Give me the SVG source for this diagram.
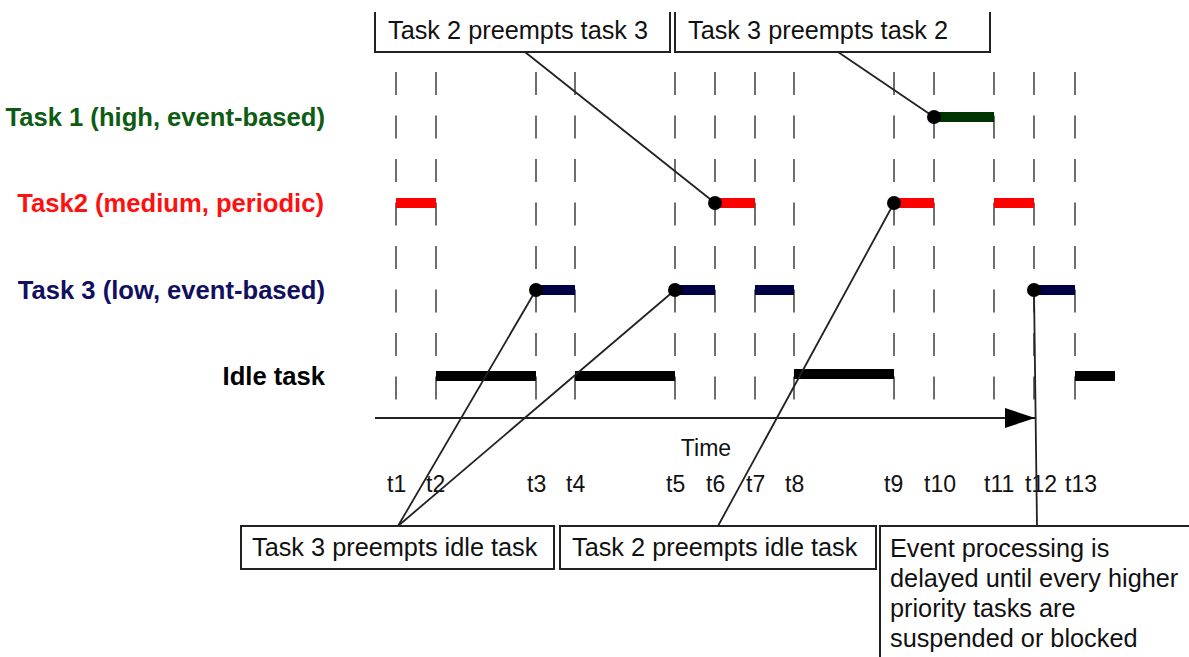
<svg xmlns="http://www.w3.org/2000/svg" width="1189" height="657" viewBox="0 0 1189 657">
<style>
  .grid line { stroke: #6e6e6e; stroke-width: 2; stroke-dasharray: 23 20.5; }
  .lbl { font-family: "Liberation Sans", Arial, sans-serif; font-size: 25.3px; fill: #111; }
  .tl { font-family: "Liberation Sans", Arial, sans-serif; font-size: 23px; fill: #111; }
  .task { font-family: "Liberation Sans", Arial, sans-serif; font-size: 25.6px; font-weight: bold; text-anchor: end; }
  .box { fill: #fff; stroke: #222; stroke-width: 2; }
  .conn { stroke: #222; stroke-width: 1.8; fill: none; }
  .b1 { stroke: #003300; stroke-width: 10; }
  .b2 { stroke: #ff0000; stroke-width: 10; }
  .b3 { stroke: #000044; stroke-width: 10; }
  .bi { stroke: #000; stroke-width: 10; }
  .dot { fill: #000; }
</style>
<defs>
  <marker id="arr" markerWidth="30" markerHeight="20" refX="30" refY="10" orient="auto" markerUnits="userSpaceOnUse">
    <path d="M0,0 L30,10 L0,20 Z" fill="#000"/>
  </marker>
</defs>
<rect width="1189" height="657" fill="#fff"/>

<g id="grid" class="grid">
  <line x1="396" y1="72" x2="396" y2="400"/>
  <line x1="436" y1="72" x2="436" y2="400"/>
  <line x1="536" y1="72" x2="536" y2="400"/>
  <line x1="575" y1="72" x2="575" y2="400"/>
  <line x1="675" y1="72" x2="675" y2="400"/>
  <line x1="715" y1="72" x2="715" y2="400"/>
  <line x1="755" y1="72" x2="755" y2="400"/>
  <line x1="794" y1="72" x2="794" y2="400"/>
  <line x1="894" y1="72" x2="894" y2="400"/>
  <line x1="934" y1="72" x2="934" y2="400"/>
  <line x1="994" y1="72" x2="994" y2="400"/>
  <line x1="1034" y1="72" x2="1034" y2="400"/>
  <line x1="1075" y1="72" x2="1075" y2="400"/>
</g>

<g id="task-labels">
  <text class="task" x="325" y="126" fill="#0d5c12">Task 1 (high, event-based)</text>
  <text class="task" x="324" y="212" fill="#ff1010">Task2 (medium, periodic)</text>
  <text class="task" x="325" y="299" fill="#10105e">Task 3 (low, event-based)</text>
  <text class="task" x="325" y="385" fill="#000">Idle task</text>
</g>

<g id="task1-bars">
  <line class="b1" x1="934" y1="117" x2="994" y2="117"/>
</g>
<g id="task2-bars">
  <line class="b2" x1="396" y1="203" x2="436" y2="203"/>
  <line class="b2" x1="715" y1="203" x2="755" y2="203"/>
  <line class="b2" x1="894" y1="203" x2="934" y2="203"/>
  <line class="b2" x1="994" y1="203" x2="1034" y2="203"/>
</g>
<g id="task3-bars">
  <line class="b3" x1="536" y1="290" x2="575" y2="290"/>
  <line class="b3" x1="675" y1="290" x2="715" y2="290"/>
  <line class="b3" x1="755" y1="290" x2="794" y2="290"/>
  <line class="b3" x1="1034" y1="290" x2="1075" y2="290"/>
</g>
<g id="idle-bars">
  <line class="bi" x1="436" y1="376" x2="536" y2="376"/>
  <line class="bi" x1="575" y1="376" x2="675" y2="376"/>
  <line class="bi" x1="794" y1="374" x2="894" y2="374"/>
  <line class="bi" x1="1075" y1="376" x2="1115" y2="376"/>
</g>

<g id="time-axis">
  <line x1="375" y1="418" x2="1035" y2="418" stroke="#222" stroke-width="2" marker-end="url(#arr)"/>
  <text class="tl" x="706" y="456" text-anchor="middle" font-size="24">Time</text>
</g>

<g id="time-labels" class="tl">
  <text x="387" y="492">t1</text>
  <text x="426" y="492">t2</text>
  <text x="527" y="492">t3</text>
  <text x="566" y="492">t4</text>
  <text x="666" y="492">t5</text>
  <text x="706" y="492">t6</text>
  <text x="746" y="492">t7</text>
  <text x="785" y="492">t8</text>
  <text x="884" y="492">t9</text>
  <text x="924" y="492">t10</text>
  <text x="984" y="492">t11</text>
  <text x="1025" y="492">t12</text>
  <text x="1065" y="492">t13</text>
</g>

<g id="connectors">
  <line class="conn" x1="525" y1="52" x2="715" y2="203"/>
  <line class="conn" x1="838" y1="52" x2="934" y2="117"/>
  <line class="conn" x1="398" y1="526" x2="536" y2="290"/>
  <line class="conn" x1="398" y1="526" x2="675" y2="290"/>
  <line class="conn" x1="718" y1="526" x2="894" y2="203"/>
  <line class="conn" x1="1034" y1="290" x2="1037" y2="526"/>
</g>

<g id="dots">
  <circle class="dot" cx="934" cy="117" r="7"/>
  <circle class="dot" cx="715" cy="203" r="7"/>
  <circle class="dot" cx="894" cy="203" r="7"/>
  <circle class="dot" cx="536" cy="290" r="7"/>
  <circle class="dot" cx="675" cy="290" r="7"/>
  <circle class="dot" cx="1034" cy="290" r="7"/>
</g>

<g id="box-t2-preempts-t3">
  <path class="box" d="M375,12 L375,52 L670,52 L670,12"/>
  <text class="lbl" x="388" y="39">Task 2 preempts task 3</text>
</g>
<g id="box-t3-preempts-t2">
  <path class="box" d="M675,12 L675,52 L990,52 L990,12"/>
  <text class="lbl" x="688" y="39">Task 3 preempts task 2</text>
</g>
<g id="box-t3-preempts-idle">
  <rect class="box" x="241" y="526" width="313" height="43"/>
  <text class="lbl" x="252" y="556">Task 3 preempts idle task</text>
</g>
<g id="box-t2-preempts-idle">
  <rect class="box" x="560" y="526" width="316" height="43"/>
  <text class="lbl" x="572" y="556">Task 2 preempts idle task</text>
</g>
<g id="box-event">
  <rect class="box" x="880" y="526" width="320" height="140"/>
  <text class="lbl" x="890" y="557">Event processing is</text>
  <text class="lbl" x="890" y="587">delayed until every higher</text>
  <text class="lbl" x="890" y="617">priority tasks are</text>
  <text class="lbl" x="890" y="647">suspended or blocked</text>
</g>
</svg>
